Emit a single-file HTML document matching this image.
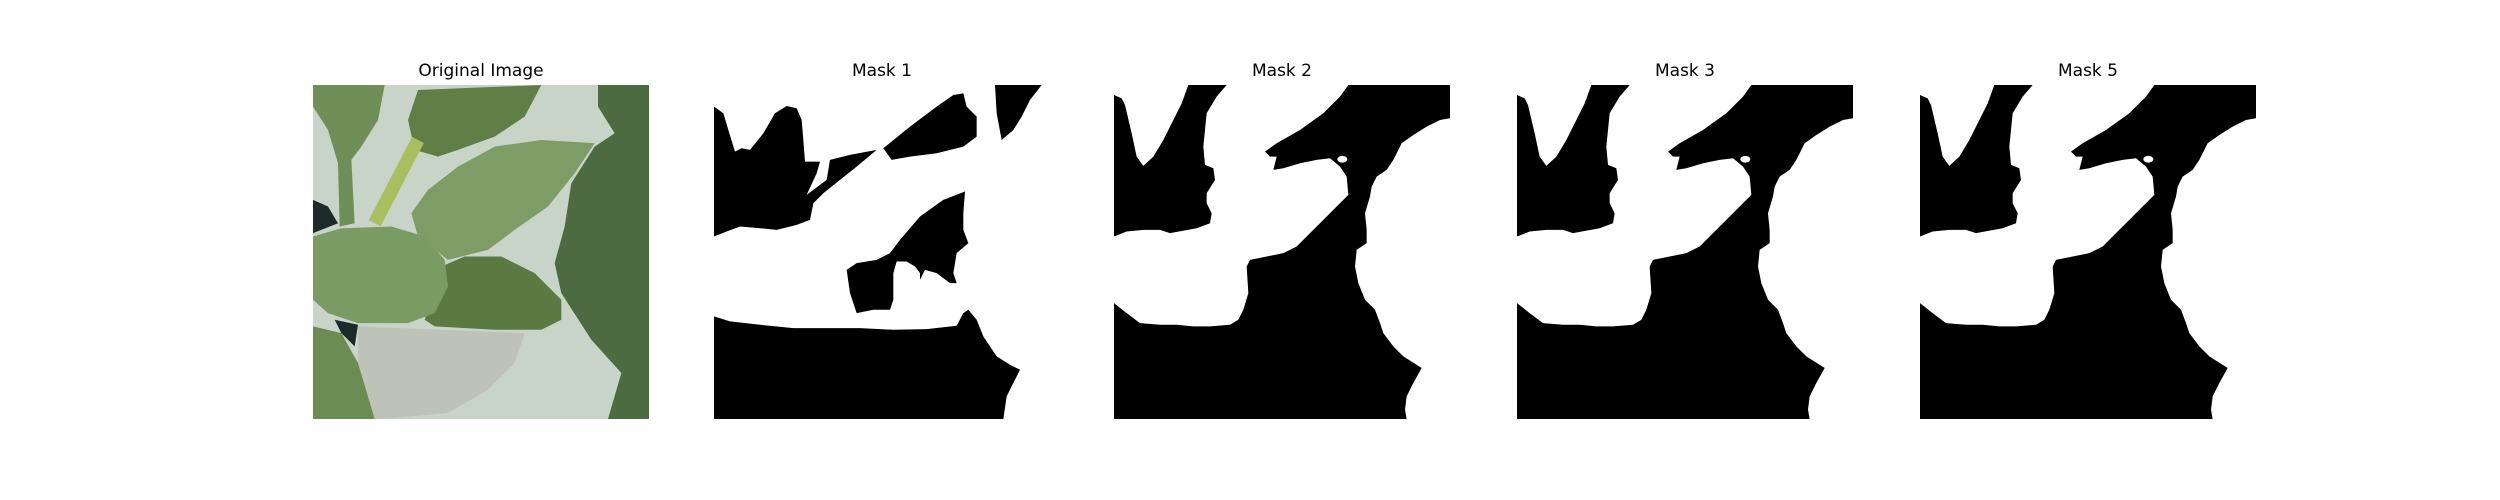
<!DOCTYPE html>
<html><head><meta charset="utf-8"><style>
html,body{margin:0;padding:0;background:#fff;}
#fig{position:relative;width:2500px;height:500px;background:#fff;overflow:hidden;font-family:"DejaVu Sans","Liberation Sans",sans-serif;}
.title{position:absolute;top:60px;width:336px;text-align:center;font-size:17px;color:#000;line-height:22px;}
svg.panel{position:absolute;top:85px;width:336px;height:334px;}
</style></head><body>
<div id="fig">
<div class="title" style="left:313px">Original Image</div>
<div class="title" style="left:714px">Mask 1</div>
<div class="title" style="left:1114px">Mask 2</div>
<div class="title" style="left:1517px">Mask 3</div>
<div class="title" style="left:1920px">Mask 5</div>

<svg class="panel" style="left:313px" viewBox="15 15 1008 1003" preserveAspectRatio="none">
<rect x="15" y="15" width="1008" height="1003" fill="#c9d4c8"/>
<polygon points="150,740 650,760 620,850 540,930 420,1000 230,1018 150,1018" fill="#bdc3b8"/>
<polygon points="15,15 230,15 210,120 160,200 130,240 140,430 95,440 90,250 60,150 15,80" fill="#6f8e58"/>
<polygon points="330,30 700,15 650,110 560,170 450,210 390,230 320,210 300,120" fill="#5f7f47"/>
<polyline points="330,180 200,430" stroke="#a8bf5f" stroke-width="40" fill="none"/>
<polygon points="310,400 360,330 450,260 560,200 700,180 860,190 800,280 720,380 620,450 540,510 420,540 330,470" fill="#7e9c66"/>
<polygon points="870,15 1023,15 1023,1018 900,1018 940,880 850,780 760,640 740,550 770,440 790,310 860,200 920,160 870,80" fill="#4d6b40"/>
<polygon points="400,560 470,530 580,530 680,580 760,660 760,720 700,750 560,750 380,740 350,720" fill="#5a7a42"/>
<polygon points="15,360 60,380 90,430 15,460" fill="#1c2a2a"/>
<polygon points="80,720 150,735 140,800 100,760" fill="#1c2a2a"/>
<polygon points="15,470 100,445 250,440 350,470 410,540 420,620 380,700 300,730 150,730 60,700 15,660" fill="#7a9b63"/>
<polygon points="15,740 100,760 150,850 200,1018 15,1018" fill="#6b8c52"/>
</svg>

<svg class="panel" style="left:714px" viewBox="12 15 1008 1003" preserveAspectRatio="none">
<rect x="12" y="15" width="1008" height="1003" fill="#fff"/>
<polygon fill="#000" points="12,80 40,100 55,150 75,215 95,205 120,210 160,160 195,100 230,78 260,85 275,120 280,180 285,245 330,245 320,280 290,345 310,330 350,300 360,240 420,225 500,210 440,260 390,300 340,340 310,370 300,420 260,435 200,450 150,445 90,440 50,455 12,470"/>
<polygon fill="#000" points="520,205 600,140 680,80 730,45 760,40 770,80 800,110 800,170 760,200 680,220 600,230 545,240"/>
<polygon fill="#000" points="855,15 995,15 960,60 935,110 910,150 875,180 860,100"/>
<polygon fill="#000" points="410,570 440,550 500,540 540,520 570,480 630,410 700,360 765,335 760,400 760,450 775,490 740,520 730,580 740,610 720,610 680,580 645,570 630,600 630,580 615,560 590,545 560,545 550,580 550,660 540,690 490,690 440,700 420,640"/>
<polygon fill="#000" points="12,710 60,725 150,735 250,745 350,745 450,745 550,750 650,748 740,738 760,700 775,690 800,720 820,770 860,830 900,855 930,870 910,910 890,950 880,1018 12,1018"/>
</svg>

<svg width="0" height="0" style="position:absolute">
<defs>
<g id="mask-shape">
<rect x="12" y="15" width="1008" height="1003" fill="#000"/>
<polygon fill="#fff" points="12,15 235,15 215,70 190,120 160,180 130,230 100,258 80,230 65,160 45,75 35,55 12,45"/>
<polygon fill="#fff" points="350,15 715,15 690,50 640,100 570,150 500,190 465,215 480,230 500,230 490,270 520,265 570,250 620,240 660,235 690,260 710,290 715,345 680,380 640,420 600,460 560,500 520,520 470,530 420,540 410,560 415,640 400,690 385,720 360,735 300,740 250,740 200,735 150,735 90,730 50,700 12,670 12,470 50,455 100,450 150,450 180,460 260,445 300,430 305,400 290,370 290,340 315,300 310,265 285,255 280,200 290,100 320,50"/>
<ellipse cx="697" cy="238" rx="15" ry="10" fill="#fff"/>
<polygon fill="#fff" points="1020,115 990,120 950,140 910,165 875,190 860,220 850,240 830,270 800,290 785,320 780,350 765,400 770,450 770,490 740,510 735,560 745,610 765,660 795,690 810,730 820,760 850,800 880,830 935,865 910,910 890,950 885,990 890,1018 1020,1018"/>
</g>
</defs>
</svg>
<svg class="panel" style="left:1114px" viewBox="12 15 1008 1003" preserveAspectRatio="none"><use href="#mask-shape"/></svg>
<svg class="panel" style="left:1517px" viewBox="12 15 1008 1003" preserveAspectRatio="none"><use href="#mask-shape"/></svg>
<svg class="panel" style="left:1920px" viewBox="12 15 1008 1003" preserveAspectRatio="none"><use href="#mask-shape"/></svg>
</div>
</body></html>
